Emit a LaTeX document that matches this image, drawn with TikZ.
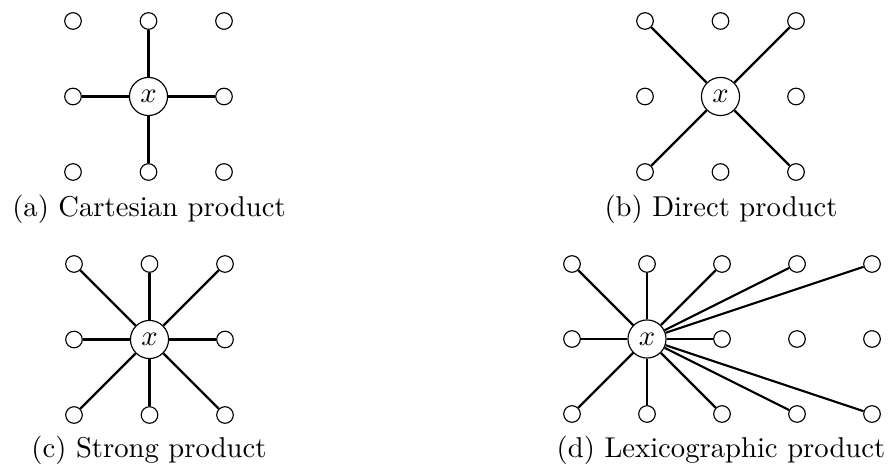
\documentclass[tikz,border=0pt]{standalone}
\begin{document}
\begin{tikzpicture}[x=0.349pt,y=-0.349pt,
  dot/.style={circle,draw,line width=0.4pt,minimum size=5.8pt,inner sep=0pt},
  ctr/.style={circle,draw,fill=white,line width=0.4pt,minimum size=13.3pt,inner sep=0pt},
  edge/.style={line width=0.75pt},
  captext/.style={anchor=base,inner sep=0pt}]
\useasboundingbox (0,0) rectangle (889,472);
% grids 3x3
\foreach \p/\ox/\oy in {a/73/21, b/645/21, c/74/264}{
  \foreach \i/\j in {0/0,1/0,2/0,0/1,2/1,0/2,1/2,2/2}{
    \node[dot] (\p\i\j) at (\ox+\i*75.5, \oy+\j*75.5) {};
  }
  \node[ctr] (\p x) at (\ox+75.5, \oy+75.5) {$x$};
}
% grid 5x3
\foreach \i/\j in {0/0,1/0,2/0,3/0,4/0,0/1,2/1,3/1,4/1,0/2,1/2,2/2,3/2,4/2}{
  \node[dot] (d\i\j) at (572+\i*75, 264+\j*75) {};
}
\node[ctr] (dx) at (647,339) {$x$};
% edges
\foreach \t in {10,01,21,12} \draw[edge] (ax) -- (a\t);
\foreach \t in {00,20,02,22} \draw[edge] (bx) -- (b\t);
\foreach \t in {00,10,20,01,21,02,12,22} \draw[edge] (cx) -- (c\t);
\foreach \t in {00,10,20,30,40,01,21,02,12,22,32,42} \draw[edge] (dx) -- (d\t);
% captions
\node[captext] (capa) at (149,217) {(a) Cartesian product};
\node[captext] (capb) at (721,217) {(b) Direct product};
\node[captext] (capc) at (149,457) {(c) Strong product};
\node[captext] (capd) at (721,457) {(d) Lexicographic product};
\end{tikzpicture}
\end{document}
